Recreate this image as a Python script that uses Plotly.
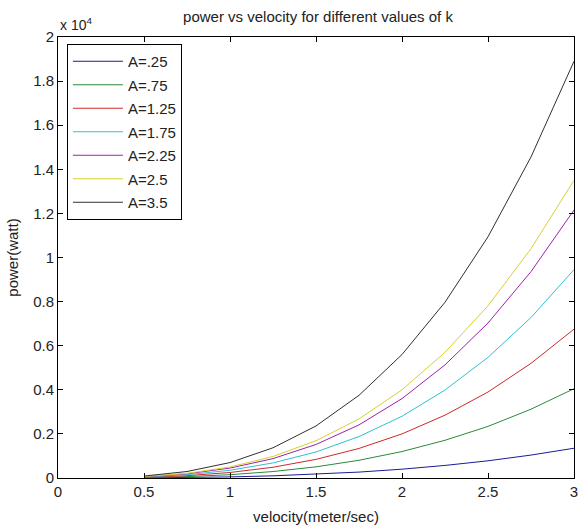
import plotly.graph_objects as go

velocity = [0.5, 0.75, 1.0, 1.25, 1.5, 1.75, 2.0, 2.25, 2.5, 2.75, 3.0]

series_names = ["A=.25", "A=.75", "A=1.25", "A=1.75", "A=2.25", "A=2.5", "A=3.5"]

p_a025 = [6, 21, 50, 98, 169, 268, 400, 570, 780, 1040, 1350]
p_a075 = [19, 63, 150, 293, 506, 804, 1200, 1710, 2340, 3120, 4050]
p_a125 = [31, 105, 250, 488, 844, 1340, 2000, 2850, 3900, 5200, 6750]
p_a175 = [44, 148, 350, 684, 1180, 1880, 2800, 3990, 5470, 7280, 9450]
p_a225 = [56, 190, 450, 879, 1520, 2410, 3600, 5130, 7030, 9360, 12150]
p_a250 = [63, 211, 500, 977, 1690, 2680, 4000, 5700, 7810, 10400, 13500]
p_a350 = [88, 295, 700, 1370, 2360, 3750, 5600, 7970, 10940, 14560, 18900]

series_values = [p_a025, p_a075, p_a125, p_a175, p_a225, p_a250, p_a350]
colors = ["#1c1c96", "#2a8a3a", "#d02828", "#30c0d0", "#a020b0", "#d8d030", "#303030"]

x_ticks = [0, 0.5, 1, 1.5, 2, 2.5, 3]
x_ticktext = ["0", "0.5", "1", "1.5", "2", "2.5", "3"]
y_ticks = [0, 2000, 4000, 6000, 8000, 10000, 12000, 14000, 16000, 18000, 20000]
y_ticktext = ["0", "0.2", "0.4", "0.6", "0.8", "1", "1.2", "1.4", "1.6", "1.8", "2"]

FONT = "Liberation Sans, Arial, sans-serif"
TXT = "#222222"

fig = go.Figure()
for name, vals, c in zip(series_names, series_values, colors):
    fig.add_trace(go.Scatter(x=velocity, y=vals, mode="lines", name=name,
                             legendgroup=name,
                             line=dict(color=c, width=1)))

axis_common = dict(showline=True, linecolor="black", linewidth=1, mirror="ticks",
                   ticks="inside", ticklen=5, tickcolor="black", showgrid=False,
                   zeroline=False, ticklabeloverflow="allow",
                   tickfont=dict(family=FONT, size=15, color=TXT))

fig.update_layout(
    width=582, height=529,
    margin=dict(l=58, r=4, t=37, b=51),
    paper_bgcolor="white", plot_bgcolor="white",
    font=dict(family=FONT, size=15, color=TXT),
    title=dict(text="power vs velocity for different values of k", x=(58 + 260) / 582,
               xanchor="center", y=1 - 17 / 529, yanchor="middle",
               font=dict(family=FONT, size=15, color=TXT)),
    xaxis=dict(range=[0, 3], tickvals=x_ticks, ticktext=x_ticktext,
               title=dict(text="velocity(meter/sec)", standoff=12,
                          font=dict(family=FONT, size=15)), **axis_common),
    yaxis=dict(range=[0, 20000], tickvals=y_ticks, ticktext=y_ticktext,
               title=dict(text="power(watt)", standoff=10,
                          font=dict(family=FONT, size=15)), **axis_common),
    legend=dict(x=(67 - 58) / 520, y=(478 - 44) / 441, xanchor="left", yanchor="top",
                bordercolor="black", borderwidth=1, bgcolor="white",
                font=dict(family=FONT, size=15, color=TXT),
                itemwidth=50, tracegroupgap=1),
    showlegend=True,
)

fig.add_annotation(text="x 10<sup>4</sup>", xref="paper", yref="paper",
                   x=0, y=1, xanchor="left", yanchor="bottom", yshift=2,
                   showarrow=False, font=dict(family=FONT, size=14, color=TXT))

fig.write_html("out.html", config={"displayModeBar": False},
               post_script="document.body.style.margin='0';")
